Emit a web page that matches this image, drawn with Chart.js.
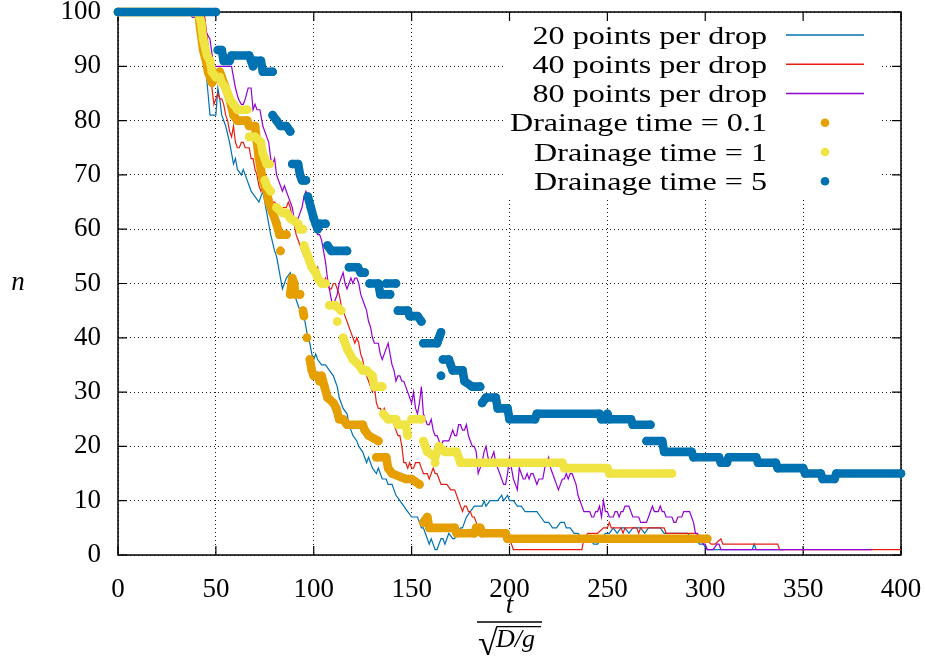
<!DOCTYPE html>
<html>
<head>
<meta charset="utf-8">
<script src="https://cdn.jsdelivr.net/npm/chart.js@4.4.1/dist/chart.umd.min.js"></script>
<style>
  html, body { margin: 0; padding: 0; background: #fff; }
  #wrap { width: 925px; height: 657px; }
</style>
</head>
<body>
<div id="wrap"><canvas id="c" width="925" height="657"></canvas></div>
<script>
// Number of drops n versus dimensionless time t / sqrt(D/g).
// Simulation runs at three resolutions: [t, n]
const line20 = [[0,100],[41,100],[42,97],[43,95],[44,92],[45,89],[46,85],[47,81],[50,81],[51,86],[52,84],[53,81],[55,79],[57,76],[58,74],[59,72],[60,73],[61,71],[63,70],[64,71],[66,69],[67,68],[68,67],[70,66],[72,65],[73,66],[74,67],[75,65],[76,63],[77,61],[78,59],[80,56],[81,55],[82,53],[84,49],[85,50],[86,51],[88,52],[89,50],[90,49],[91,47],[92,46],[93,45],[95,44],[96,42],[97,40],[98,39],[99,37],[100,36],[101,37],[102,36],[104,35],[106,35],[108,34],[110,33],[111,32],[112,31],[113,29],[114,28],[115,27],[117,26],[118,24],[119,23],[120,22],[122,21],[123,20],[125,19],[126,18],[127,17],[128,18],[129,17],[130,16],[132,15],[133,16],[134,15],[135,14],[137,14],[138,13],[140,13],[141,12],[142,11],[144,10],[146,9],[148,8],[150,7],[153,7],[154,6],[155,5],[156,5],[157,4],[158,3],[159,2],[160,3],[161,2],[162,1],[163,1],[164,2],[165,3],[166,3],[167,2],[168,3],[169,4],[171,3],[172,3],[173,4],[175,5],[176,5],[177,6],[178,7],[180,8],[182,9],[184,9],[186,9],[187,10],[188,9],[190,10],[192,10],[194,10],[196,11],[197,10],[199,11],[200,10],[202,10],[204,9],[206,9],[208,8],[210,8],[212,8],[214,8],[216,7],[218,6],[220,6],[222,5],[224,5],[226,6],[228,6],[229,5],[231,5],[233,4],[235,4],[237,3],[239,3],[241,3],[243,2],[245,2],[247,3],[249,4],[251,4],[253,5],[255,4],[257,5],[259,5],[261,4],[263,5],[265,5],[267,5],[269,4],[271,5],[273,5],[275,5],[277,5],[279,4],[281,4],[283,4],[285,4],[287,4],[289,4],[291,4],[293,3],[295,3],[297,2],[299,2],[301,1],[303,1],[324,1],[325,2],[326,1],[340,1]];

const line40 = [[0,100],[44,100],[45,97],[46,94],[47,90],[48,86],[49,83],[50,84],[51,85],[52,84],[53,84],[54,83],[55,81],[56,80],[57,78],[58,77],[59,79],[60,76],[61,75],[62,75],[63,76],[64,76],[65,75],[66,75],[67,75],[68,73],[69,73],[70,71],[71,70],[72,68],[73,67],[74,68],[75,68],[76,67],[77,66],[78,66],[79,65],[80,65],[82,64],[83,63],[84,64],[86,64],[87,65],[88,64],[89,62],[90,61],[91,59],[92,58],[93,57],[94,56],[95,55],[96,55],[97,54],[98,53],[99,54],[100,53],[101,52],[102,53],[103,51],[104,51],[105,50],[106,51],[107,50],[108,49],[109,49],[110,50],[111,50],[112,49],[113,48],[114,46],[115,45],[116,44],[117,43],[118,42],[119,41],[120,40],[121,39],[122,40],[123,39],[124,37],[125,36],[126,34],[127,33],[128,32],[129,31],[130,30],[131,31],[132,28],[133,27],[134,27],[135,26],[136,27],[137,26],[138,25],[139,25],[140,25],[141,24],[142,23],[143,22],[144,22],[145,20],[146,17],[147,17],[148,16],[149,17],[150,16],[151,16],[152,17],[153,17],[154,17],[155,16],[156,15],[158,15],[159,14],[160,15],[161,16],[162,15],[163,15],[164,14],[165,13],[167,13],[168,13],[170,12],[172,12],[174,10],[175,9],[176,8],[177,9],[178,9],[179,8],[180,8],[181,7],[182,7],[183,6],[184,5],[185,5],[187,5],[188,4],[190,4],[192,4],[194,4],[196,4],[198,4],[199,3],[200,3],[201,2],[202,1],[237,1],[238,3],[240,4],[245,4],[248,5],[250,5],[251,6],[252,5],[257,5],[258,4],[259,5],[265,5],[266,4],[267,5],[279,5],[280,4],[285,4],[290,4],[295,4],[300,3],[303,2],[305,2],[308,3],[309,2],[311,2],[337,2],[338,1],[400,1]];

const line80 = [[0,100],[36,100],[38,99],[40,99],[42,98],[44,97],[45.5,96],[47,95],[48.5,91],[49.5,90],[58,90],[59,88],[60,86],[61.5,84],[63,83],[64,83],[65,84],[66.5,86],[68,86],[69,82],[70,83],[71,82],[72.5,82],[74,79],[75,78],[76,77],[77,76],[78,73],[79,72],[80,73],[81,70],[82,69],[83,68],[84,67],[85,68],[86,67],[87,66],[88,65],[89,64],[90,62],[92,62],[93,63],[94,64],[95,66],[96,67],[97,66],[98,66],[99,63],[100,61],[101,60],[102,59],[103,59],[104,58],[105,56],[106,54],[107,51],[108,49],[109,47],[110,46],[111,47],[112,48],[113,50],[114,51],[115,52],[116,50],[117,49],[118,50],[119,51],[120,50],[121,51],[122,51],[123,50],[124,48],[125,47],[126,46],[127,45],[128,43],[129,42],[130,40],[131,39],[133,39],[134,37],[135,36],[136,37],[137,38],[138,39],[139,37],[140,35],[141,34],[142,32],[143,33],[144,33],[145,32],[146,32],[147,31],[148,30],[149,29],[150,28],[151,30],[152,27],[153,26],[154,28],[155,31],[156,26],[157,25],[158,24],[159,24],[160,25],[161,23],[162,22],[163,22],[164,21],[165,20],[166,21],[169,21],[170,22],[171,23],[172,22],[173,22],[174,24],[175,24],[176,23],[177,23],[178,24],[179,22],[180,21],[181,20],[182,20],[183,19],[184,15],[185,16],[186,17],[187,19],[188,20],[189,18],[190,17],[191,18],[192,19],[193,17],[194,16],[195,15],[196,14],[197,13],[198,13],[199,15],[200,18],[201,16],[202,14],[203,13],[204,12],[205,16],[206,15],[207,14],[208,14],[209,15],[210,14],[211,15],[212,15],[213,14],[214,13],[215,14],[217,14],[218,16],[219,17],[220,18],[221,16],[222,15],[223,14],[224,13],[225,12],[226,13],[227,14],[228,14],[229,15],[230,14],[231,15],[232,15],[233,14],[234,13],[235,11],[236,10],[237,9],[238,8],[241,8],[242,7],[243,7],[244,8],[245,8],[246,9],[247,7],[248,10],[249,8],[250,8],[251,7],[253,7],[254,8],[255,8],[256,7],[257,8],[258,8],[259,9],[261,9],[262,8],[263,7],[266,7],[267,6],[270,6],[271,7],[272,8],[273,9],[274,8],[276,8],[277,9],[278,8],[279,8],[280,7],[283,7],[284,6],[285,6],[286,7],[288,7],[289,8],[292,8],[293,7],[294,6],[295,4],[296,4],[297,3],[298,3],[299,2],[300,2],[301,1],[304,1],[306,2],[307,2],[308,1],[385,1]];

// Drop counts for three drainage times: [t, n], null separates detached groups
const drain01 = [[0,100],[41,100],[42,97],[43.5,93],[45,91],[46,89],[48,87],[50,88],[52,89],[53,88],[55,86],[57,84],[59,81],[61,80],[66,80],[67,79],[70,79],[71,76],[72,73],[73,71],[74,69],[75,68],[76,67],[77,65],[79,63],[81,61],[82.5,59],[86,59],null,[83,56],null,[88,48],[89,51],[90,50],[90.5,48],[93,48],null,[94.5,45],[95,44],null,[96.5,40],null,[98,36],[99,34],[100,33],[102,33],[103,32],[104,33],[105.5,31],[107,29],[110,28],[111.5,27],[113,25],[115,25],[117,24],[125,24],[126,23],[128,22],[133,21],null,[132,18],[137,18],[138,16],[140,15],[147,14],[150,14],[154,13],null,[156,6],[158,7],[159,5],[172,5],[173,4],[182,4],[183,5],[185,5],[186,4],[198,4],[199,3],[301,3]];

const drain1 = [[0,100],[41,100],[42.5,98],[43.5,95],[45.5,92],[47,91],[48,89],[50,88],[52,88],[53,87],[55,86],[57,84],[59,83],[61,82],[66,82],null,[67,77],[70,77],[73,76],[74,74],[76,72],[77.5,72],null,[75,69],[76,68],[78,67],null,[81,64],[84,63],[86,63],[88,62],[92,61],[93,60],[94.5,60],null,[95,57],[96,56],[97,55],[98,54],[99,53],[101,52],[102,51],[104,50],[106,50],null,[108,46],[111,46],[114,45],null,[112,43],null,[115,40],[117,38],[120,36],[123,35],[125,34],[127,34],[130,33],[131,31],[135,31],null,[135.5,26],[138,25],[142,25],[143,24],[147,24],[148,22],null,[150,25],[155,25],null,[156,21],[158,19],[162,18],[164,20],[167,19],[173,19],[175,17],[227,17],[228,16],[250,16],[251,15],[283,15],null,[162,17]];

const drain5 = [[0,100],[50,100],null,[51,93],[53,93],[54,91],[57,91],[58,92],[67,92],[68,91],[69,90],[70,91],[73,91],[74,89],[79,89],null,[79,81],[81,80],[83,79],[86,79],[88,78],null,[89,72],[92,72],[93,70],[94,69],[96,69],null,[97,66],[98.5,64],[100,62],[101,61],[102,60],[103,61],[106,61],null,[107,57],[109,56],[117,56],null,[118,53],[122.5,53],[124,52],[126,52],null,[128.5,50],[133,50],[134,48],[139,48],null,[137,50],[142,50],null,[143,45],[148,45],[149,44],[153,44],[155,43],null,[156,39],[163,39],[164,40],[165,41],null,[165,33],null,[166,36],[169,36],[170,35],[171,34],[176,34],[177,32],[181,31],[185,31],null,[186,28],[188,29],[193,29],[194,27],[199,27],[200,25],[213,25],[214,26],[246,26],[247,25],[249,25],[250,26],[251,25],[262,25],[263,24],[272,24],null,[270,21],[278,21],[279,19],[293,19],[294,18],[307,18],[308,17],[311,17],[312,18],[326,18],[327,17],[336,17],[337,16],[350,16],[351,15],[359,15],[360,14],[366,14],[367,15],[400,15]];

const legendLabels = ['20 points per drop', '40 points per drop', '80 points per drop',
                      'Drainage time = 0.1', 'Drainage time = 1', 'Drainage time = 5'];
const colors = ['#0072b2', '#e51e10', '#9400d3', '#e69f00', '#f0e442', '#0072b2'];

const SERIF = '"Liberation Serif", "DejaVu Serif", serif';

function toPoints(pairs) {
  let lastX = 0;
  return pairs.map(p => {
    if (p === null) return { x: lastX, y: null };
    lastX = p[0];
    return { x: p[0], y: p[1] };
  });
}

function lineSet(i, pairs, order) {
  return {
    label: legendLabels[i], data: toPoints(pairs), kind: 'line',
    borderColor: colors[i], backgroundColor: colors[i], borderWidth: 1.2,
    pointRadius: 0, pointHoverRadius: 0, tension: 0, fill: false, order
  };
}

function dotSet(i, pairs, order) {
  return {
    label: legendLabels[i], data: toPoints(pairs), kind: 'dot',
    borderColor: colors[i], backgroundColor: colors[i], borderWidth: 8.6,
    borderCapStyle: 'round', borderJoinStyle: 'round',
    pointRadius: 4.3, pointHoverRadius: 4.3, pointBorderWidth: 0,
    pointBackgroundColor: colors[i], tension: 0, fill: false,
    spanGaps: false, clip: false, order
  };
}

// Key box, frame, inward tick marks and axis titles
const decorations = {
  id: 'decorations',
  beforeDatasetsDraw(chart) {
    const { ctx, chartArea: a, scales: { x, y } } = chart;
    ctx.save();

    // opaque key
    ctx.fillStyle = '#fff';
    ctx.fillRect(503, a.top + 2, 378, 183);

    ctx.font = '26px ' + SERIF;
    const sx = 257 / ctx.measureText(legendLabels[3]).width;
    chart.data.datasets.forEach((ds, i) => {
      const cy = 35 + i * 29.25;
      ctx.save();
      ctx.translate(767, cy + 8.5);
      ctx.scale(sx, 1);
      ctx.fillStyle = '#000';
      ctx.textAlign = 'right';
      ctx.textBaseline = 'alphabetic';
      ctx.fillText(ds.label, 0, 0);
      ctx.restore();
      if (ds.kind === 'line') {
        ctx.strokeStyle = ds.borderColor;
        ctx.lineWidth = 1.3;
        ctx.beginPath();
        ctx.moveTo(786, cy);
        ctx.lineTo(864, cy);
        ctx.stroke();
      } else {
        ctx.fillStyle = ds.borderColor;
        ctx.beginPath();
        ctx.arc(825, cy, 4.3, 0, Math.PI * 2);
        ctx.fill();
      }
    });

    // frame
    ctx.strokeStyle = '#000';
    ctx.lineWidth = 1.5;
    ctx.strokeRect(a.left, a.top, a.right - a.left, a.bottom - a.top);

    // inward tick marks on all four sides
    const L = 9;
    ctx.lineWidth = 1.2;
    ctx.beginPath();
    x.ticks.forEach(t => {
      const px = x.getPixelForValue(t.value);
      ctx.moveTo(px, a.bottom); ctx.lineTo(px, a.bottom - L);
      ctx.moveTo(px, a.top); ctx.lineTo(px, a.top + L);
    });
    y.ticks.forEach(t => {
      const py = y.getPixelForValue(t.value);
      ctx.moveTo(a.left, py); ctx.lineTo(a.left + L, py);
      ctx.moveTo(a.right, py); ctx.lineTo(a.right - L, py);
    });
    ctx.stroke();
    ctx.restore();
  },
  afterDraw(chart) {
    const { ctx, chartArea: a } = chart;
    ctx.save();
    ctx.fillStyle = '#000';
    ctx.strokeStyle = '#000';

    // y title
    ctx.font = 'italic 27px ' + SERIF;
    ctx.textAlign = 'center';
    ctx.textBaseline = 'alphabetic';
    ctx.fillText('n', 18, (a.top + a.bottom) / 2 + 6);

    // x title: t over sqrt(D/g)
    const cx = (a.left + a.right) / 2;
    ctx.fillText('t', cx, 613);
    ctx.lineWidth = 1.3;
    ctx.beginPath();
    ctx.moveTo(477, 622); ctx.lineTo(542, 622);
    ctx.stroke();

    ctx.font = '36px ' + SERIF;
    ctx.textAlign = 'left';
    const m = ctx.measureText('\u221A');
    const top = 626;
    const left = 478;
    ctx.fillText('\u221A', left + m.actualBoundingBoxLeft, top + m.actualBoundingBoxAscent);
    const rEnd = left + m.actualBoundingBoxLeft + m.actualBoundingBoxRight;
    ctx.lineWidth = 1.2;
    ctx.beginPath();
    ctx.moveTo(rEnd - 1, top + 0.6); ctx.lineTo(541, top + 0.6);
    ctx.stroke();

    ctx.font = 'italic 26px ' + SERIF;
    ctx.fillText('D/g', 496, 647);
    ctx.restore();
  }
};

new Chart(document.getElementById('c'), {
  type: 'line',
  data: {
    datasets: [
      lineSet(0, line20, 5),
      lineSet(1, line40, 4),
      lineSet(2, line80, 3),
      dotSet(3, drain01, 2),
      dotSet(4, drain1, 1),
      dotSet(5, drain5, 0)
    ]
  },
  options: {
    responsive: false,
    animation: false,
    events: [],
    layout: { padding: { top: 12, right: 24, bottom: 0, left: 0 } },
    plugins: { legend: { display: false }, tooltip: { enabled: false }, title: { display: false } },
    scales: {
      x: {
        type: 'linear', min: 0, max: 400,
        ticks: { stepSize: 50, color: '#000', padding: 19, maxRotation: 0,
                 font: { family: SERIF, size: 27 } },
        grid: { color: 'rgba(0,0,0,0.9)', lineWidth: 1, drawTicks: false },
        border: { display: false, dash: [1, 3] },
        afterFit(s) { s.height = 102; s.paddingLeft = 0; s.paddingRight = 0; }
      },
      y: {
        type: 'linear', min: 0, max: 100,
        ticks: { stepSize: 10, color: '#000', padding: 17,
                 font: { family: SERIF, size: 27 } },
        grid: { color: 'rgba(0,0,0,0.9)', lineWidth: 1, drawTicks: false },
        border: { display: false, dash: [1, 3] },
        afterFit(s) { s.width = 118; s.paddingTop = 0; s.paddingBottom = 0; }
      }
    }
  },
  plugins: [decorations]
});
</script>
</body>
</html>
